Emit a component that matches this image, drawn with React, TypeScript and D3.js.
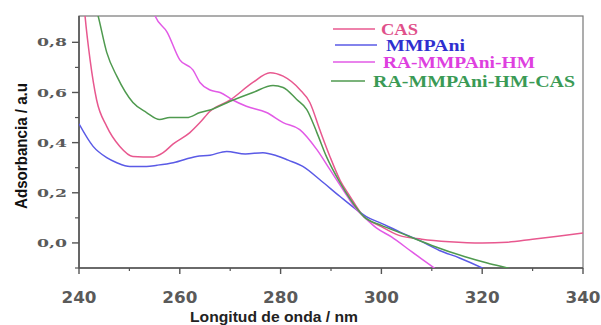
import React from 'react';
import * as d3 from 'd3';

type Pt = [number, number];

// wavelength (nm), absorbance (a.u.)
const casData: Pt[] = [
  [240.6, 1.05], [241.2, 0.905], [242.2, 0.73], [243.5, 0.57], [245.5, 0.465], [248.1, 0.385],
  [250.7, 0.345], [254.7, 0.343], [256.7, 0.36], [258.7, 0.395], [262, 0.44], [264, 0.48],
  [266, 0.525], [270, 0.57], [274.5, 0.64], [277.9, 0.679], [280.5, 0.665], [283.8, 0.612],
  [285.8, 0.56], [287.8, 0.45], [289.8, 0.344], [291.8, 0.25], [293.8, 0.185], [296.3, 0.11],
  [300, 0.065], [303.5, 0.03], [308, 0.015], [313.5, 0.005], [320, 0.0], [325, 0.003],
  [330, 0.015], [335, 0.027], [340, 0.04],
];
const mmpaniData: Pt[] = [
  [240, 0.475], [242.8, 0.385], [245.5, 0.34], [247.5, 0.32], [250.1, 0.305], [253.4, 0.305],
  [255.5, 0.31], [258.7, 0.32], [263.3, 0.345], [266, 0.35], [269.3, 0.365], [273, 0.355],
  [276.5, 0.36], [279.2, 0.348], [281.5, 0.33], [284.4, 0.305], [287.8, 0.252], [291.8, 0.185],
  [295.1, 0.132], [297, 0.105], [300, 0.078], [303.5, 0.045], [307.5, 0.01], [311.5, -0.03],
  [315.5, -0.06], [320, -0.1], [321, -0.11],
];
const raHmData: Pt[] = [
  [254.3, 0.95], [255.1, 0.905], [257.5, 0.84], [260, 0.73], [262.6, 0.69], [264, 0.64],
  [266, 0.61], [268, 0.6], [270.5, 0.57], [273.2, 0.545], [277.2, 0.52], [280.5, 0.48],
  [283.8, 0.452], [287.2, 0.372], [289.8, 0.292], [292.4, 0.212], [295.1, 0.132], [296.5, 0.105],
  [299, 0.06], [302, 0.024], [306, -0.035], [310.5, -0.1], [311.5, -0.115],
];
const raHmCasData: Pt[] = [
  [243.2, 0.95], [243.8, 0.905], [245.5, 0.76], [247.5, 0.665], [250.7, 0.56], [253.4, 0.52],
  [256, 0.492], [258, 0.5], [261.4, 0.5], [264, 0.52], [266, 0.53], [270, 0.565],
  [274.5, 0.6], [278.5, 0.628], [280.5, 0.62], [283.2, 0.572], [285.2, 0.532], [287.2, 0.44],
  [289.1, 0.344], [291.8, 0.24], [293.8, 0.175], [296.5, 0.105], [300, 0.07], [303.5, 0.042],
  [310, -0.01], [316.6, -0.055], [321, -0.08], [325, -0.1], [326, -0.105],
];

const seriesNames = ['CAS', 'MMPAni', 'RA-MMPAni-HM', 'RA-MMPAni-HM-CAS'];
const xTicks = [240, 260, 280, 300, 320, 340];
const yTicks = [0.0, 0.2, 0.4, 0.6, 0.8];

const series = [
  { name: seriesNames[0], data: casData, line: '#e8588f', text: '#e0508a', lx: [333, 375], tx: 381, ty: 29, tl: 37 },
  { name: seriesNames[1], data: mmpaniData, line: '#5a5ae6', text: '#2f2fcf', lx: [335, 377], tx: 386, ty: 45, tl: 79 },
  { name: seriesNames[2], data: raHmData, line: '#e25ae6', text: '#de3fdf', lx: [333, 375], tx: 383, ty: 62, tl: 152 },
  { name: seriesNames[3], data: raHmCasData, line: '#4f9a4f', text: '#3a9a55', lx: [331, 365], tx: 373, ty: 81, tl: 202 },
];

const W = 601;
const H = 325;
const m = { left: 79, right: 583, top: 16, bottom: 268 };

const App: React.FC = () => {
  const x = d3.scaleLinear().domain([240, 340]).range([m.left, m.right]);
  const y = d3.scaleLinear().domain([-0.1, 0.905]).range([m.bottom, m.top]);

  const line = d3.line<Pt>()
    .x(d => x(d[0]))
    .y(d => y(d[1]))
    .curve(d3.curveMonotoneX);

  const xMinor = d3.range(250, 340, 20);
  const yMinor = [-0.1, 0.1, 0.3, 0.5, 0.7];
  const axisCol = '#555';

  return (
    <svg width={W} height={H} style={{ position: 'absolute', left: 0, top: 0, background: '#fff' }}>
      <defs>
        <clipPath id="plot">
          <rect x={m.left} y={m.top} width={m.right - m.left} height={m.bottom - m.top} />
        </clipPath>
      </defs>

      {/* frame */}
      <rect x={m.left} y={m.top} width={m.right - m.left} height={m.bottom - m.top}
        fill="none" stroke="#777" strokeWidth={1.2} />
      <line x1={m.left} x2={m.left} y1={m.top} y2={m.bottom} stroke={axisCol} strokeWidth={1.6} />
      <line x1={m.left} x2={m.right} y1={m.bottom} y2={m.bottom} stroke={axisCol} strokeWidth={1.6} />

      {/* curves */}
      <g clipPath="url(#plot)">
        {series.map(s => (
          <path key={s.name} d={line(s.data) || ''} fill="none" stroke={s.line} strokeWidth={1.5} />
        ))}
      </g>

      {/* y ticks */}
      {yTicks.map(t => (
        <g key={t}>
          <line x1={m.left - 7} x2={m.left} y1={y(t)} y2={y(t)} stroke={axisCol} strokeWidth={1.4} />
          <text x={67} y={y(t)} dy="0.36em" textAnchor="end" fill="#5a5a5a"
            fontFamily="DejaVu Serif, serif" fontWeight="bold" fontSize={11.5}
            textLength={30} lengthAdjust="spacingAndGlyphs">
            {t.toFixed(1).replace('.', ',')}
          </text>
        </g>
      ))}
      {yMinor.map(t => (
        <line key={t} x1={m.left - 4} x2={m.left} y1={y(t)} y2={y(t)} stroke={axisCol} strokeWidth={1.2} />
      ))}

      {/* x ticks */}
      {xTicks.map(t => (
        <g key={t}>
          <line x1={x(t)} x2={x(t)} y1={m.bottom} y2={m.bottom + 6} stroke={axisCol} strokeWidth={1.4} />
          <text x={x(t)} y={298} dy="0.36em" textAnchor="middle" fill="#5a5a5a"
            fontFamily="DejaVu Sans, sans-serif" fontWeight="bold" fontSize={15}
            textLength={35} lengthAdjust="spacingAndGlyphs">
            {t}
          </text>
        </g>
      ))}
      {xMinor.map(t => (
        <line key={t} x1={x(t)} x2={x(t)} y1={m.bottom} y2={m.bottom + 3} stroke={axisCol} strokeWidth={1.2} />
      ))}

      {/* axis titles */}
      <text transform="translate(21,146) rotate(-90)" textAnchor="middle"
        dy="0.36em" fontFamily="Liberation Sans, Arial, sans-serif" fontWeight="bold" fontSize={16}
        fill="#111" textLength={126} lengthAdjust="spacingAndGlyphs">
        Adsorbancia / a.u
      </text>
      <text x={274} y={317} dy="0.36em" textAnchor="middle" fontFamily="Liberation Sans, Arial, sans-serif"
        fontWeight="bold" fontSize={15} fill="#222" textLength={168} lengthAdjust="spacingAndGlyphs">
        Longitud de onda / nm
      </text>

      {/* legend */}
      {series.map(s => (
        <g key={s.name}>
          <line x1={s.lx[0]} x2={s.lx[1]} y1={s.ty} y2={s.ty} stroke={s.line} strokeWidth={1.5} />
          <text x={s.tx} y={s.ty} dy="0.35em" fill={s.text} fontFamily="Liberation Serif, serif"
            fontWeight="bold" fontSize={16} textLength={s.tl} lengthAdjust="spacingAndGlyphs">
            {s.name}
          </text>
        </g>
      ))}
    </svg>
  );
};

export default App;
